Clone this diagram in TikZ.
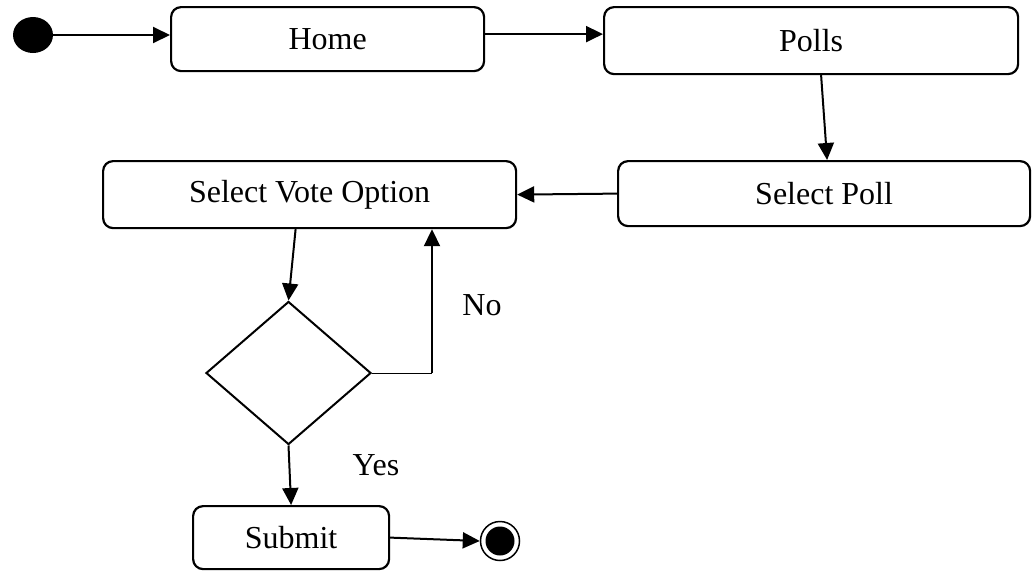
\documentclass[tikz,border=0pt]{standalone}
\usepackage{fontspec}
\setmainfont{Liberation Serif}
\usetikzlibrary{shapes.geometric,arrows.meta}
\begin{document}
\begin{tikzpicture}[x=1pt,y=-1pt,
  every node/.style={font=\fontsize{32}{38}\selectfont},
  state/.style={draw,rounded corners=10pt,line width=2.2pt,inner sep=0pt,anchor=north west},
  flow/.style={line width=2pt,-{Triangle[length=17pt,width=16pt]}},
  lbl/.style={inner sep=0pt}]
\useasboundingbox (0,0) rectangle (1034,571);

% start pseudostate
\node[ellipse,fill=black,minimum width=40pt,minimum height=36pt,inner sep=0pt] (start) at (33,35) {};

% activity states
\node[state,minimum width=313pt,minimum height=64pt] (home) at (170,6) {Home};
\node[state,minimum width=414pt,minimum height=67pt] (polls) at (603,6) {Polls};
\node[state,minimum width=412pt,minimum height=65pt] (spoll) at (617,160) {Select Poll};
\node[state,minimum width=413pt,minimum height=67pt] (svo) at (102,160) {Select Vote Option};
\node[state,minimum width=196pt,minimum height=63pt] (submit) at (192,505) {Submit};

% decision
\node[diamond,draw,line width=2pt,inner sep=0pt,minimum width=165pt,minimum height=143pt] (dec) at (288.5,373) {};

% final state
\node[circle,draw,line width=1.5pt,minimum size=39pt,inner sep=0pt] (final) at (500,541) {};
\fill (final.center) circle (14.5);

% transitions
\draw[flow] (start.east) -- (start.east -| home.west);
\draw[flow] ([yshift=5pt]home.east) -- ([yshift=5pt]home.east -| polls.west);
\draw[flow] ([xshift=10pt]polls.south) -- ([xshift=3pt]spoll.north);
\draw[flow] (spoll.west) -- (svo.east);
\draw[flow] ([xshift=-14pt]svo.south) -- (dec.north);
\coordinate (nobend) at (432,373);
\draw[line width=1pt] (dec.east) -- (nobend);
\draw[flow] (nobend) -- (nobend |- svo.south);
\draw[flow] (dec.south) -- (submit.north);
\draw[flow] (submit.east) -- (final.west);

% guards
\node[lbl] (no) at (482,305) {No};
\node[lbl] (yes) at (376,465) {Yes};
\end{tikzpicture}
\end{document}
